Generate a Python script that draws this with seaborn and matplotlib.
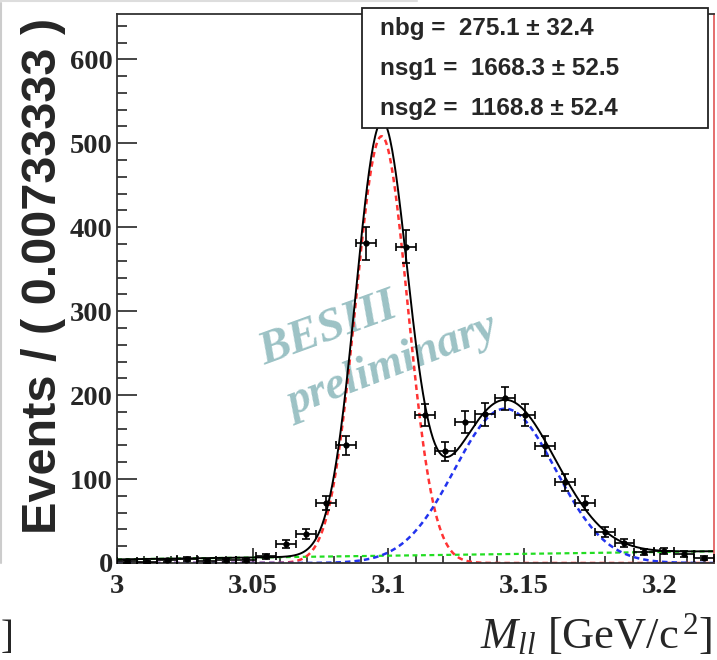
import numpy as np
import matplotlib
matplotlib.use("Agg")
import matplotlib.pyplot as plt
from matplotlib.patches import Rectangle
from matplotlib.lines import Line2D
from matplotlib.ticker import MultipleLocator
import seaborn as sns

# datos
x_min, x_max = 3.0, 3.22
n_bins = 30
counts = [2, 1, 3, 5, 2, 3, 3, 8, 23, 35, 71, 140, 381, 545, 377,
          176, 133, 168, 177, 196, 176, 139, 96, 71, 37, 24, 13, 14, 11, 6]

# resultados del ajuste (leyenda)
nbg, nbg_err = 275.1, 32.4
nsg1, nsg1_err = 1668.3, 52.5
nsg2, nsg2_err = 1168.8, 52.4

# forma de las componentes
mean1, sigma1 = 3.0975, 0.0096
mean2, sigma2 = 3.143, 0.0186
bkg_left, bkg_right = 4.3, 14.0

sns.set_style("ticks")
plt.rcParams["mathtext.fontset"] = "custom"
plt.rcParams["mathtext.rm"] = "Liberation Serif"
plt.rcParams["mathtext.it"] = "Liberation Serif:italic"

bin_w = (x_max - x_min) / n_bins
centers = x_min + bin_w * (np.arange(n_bins) + 0.5)
counts = np.array(counts)

xs = np.linspace(x_min, x_max, 600)
def gauss(x, n, m, s):
    return n * bin_w / (s * np.sqrt(2 * np.pi)) * np.exp(-0.5 * ((x - m) / s) ** 2)

sig1 = gauss(xs, nsg1, mean1, sigma1)
sig2 = gauss(xs, nsg2, mean2, sigma2)
bkg = bkg_left + (bkg_right - bkg_left) * (xs - x_min) / (x_max - x_min)
total = sig1 + sig2 + bkg

fig = plt.figure(figsize=(7.17, 6.6), dpi=100)
ax = fig.add_axes([117 / 717, 1 - 563 / 660, (714 - 117) / 717, (563 - 14) / 660])

dash = (0, (2.2, 1.6))
sns.lineplot(x=xs, y=bkg, ax=ax, color="#22dd22", lw=1.6, linestyle=dash)
sns.lineplot(x=xs, y=sig1, ax=ax, color="#ff3333", lw=1.8, linestyle=dash)
sns.lineplot(x=xs, y=sig2, ax=ax, color="#2233ee", lw=1.8, linestyle=dash)
sns.lineplot(x=xs, y=total, ax=ax, color="black", lw=1.4)

ax.errorbar(centers, counts, xerr=bin_w / 2, yerr=np.sqrt(counts), fmt="o",
            color="black", ms=3.5, elinewidth=1.2, capsize=3, capthick=1.2, zorder=5)

ax.set_xlim(x_min, x_max)
ax.set_ylim(0, 654)
ax.xaxis.set_major_locator(MultipleLocator(0.05))
ax.xaxis.set_minor_locator(MultipleLocator(0.01))
ax.yaxis.set_major_locator(MultipleLocator(100))
ax.yaxis.set_minor_locator(MultipleLocator(20))
ax.set_xticks([3.0, 3.05, 3.1, 3.15, 3.2])
ax.set_xticklabels(["3", "3.05", "3.1", "3.15", "3.2"])
ax.set_xlabel("")
ax.set_ylabel("")

ax.tick_params(axis="y", which="major", direction="in", length=14.5, width=1.2, pad=3)
ax.tick_params(axis="y", which="minor", direction="in", length=7, width=1.2)
ax.tick_params(axis="x", which="major", direction="in", length=11, width=1.2, pad=8)
ax.tick_params(axis="x", which="minor", direction="in", length=5, width=1.2)
for lab in ax.get_xticklabels() + ax.get_yticklabels():
    lab.set_family("Liberation Serif")
    lab.set_weight("bold")
    lab.set_fontsize(20.5)

for s in ["left", "top", "bottom"]:
    ax.spines[s].set_color("#333333")
    ax.spines[s].set_linewidth(1.3)
ax.spines["right"].set_color("#e05555")
ax.spines["right"].set_linewidth(1.2)

# marca de agua
ax.text(3.078, 278, "BESIII", fontsize=34, family="Liberation Serif", style="italic",
        weight="bold", color="#9cc2c5", rotation=20, ha="center", va="center", zorder=1)
ax.text(3.1015, 234, "preliminary", fontsize=33, family="Liberation Serif", style="italic",
        weight="bold", color="#9cc2c5", rotation=21, ha="center", va="center", zorder=1)

# caja de resultados
fig.add_artist(Rectangle((362 / 717, 1 - 128 / 660), (708 - 362) / 717, 120 / 660,
                         transform=fig.transFigure, facecolor="white",
                         edgecolor="#222222", lw=1.3, zorder=10))
lineas = [f"nbg =  {nbg} \u00b1 {nbg_err}",
          f"nsg1 =  {nsg1} \u00b1 {nsg1_err}",
          f"nsg2 =  {nsg2} \u00b1 {nsg2_err}"]
for i, t in enumerate(lineas):
    fig.text(380 / 717, 1 - (29 + 40 * i) / 660, t,
             fontsize=17.5, family="Liberation Sans", weight="bold",
             ha="left", va="center", zorder=11)

fig.text(44 / 717, 1 - 276 / 660, "Events / ( 0.00733333 )", rotation=90,
         fontsize=35, family="Liberation Sans", weight="bold", ha="center", va="center")
fig.text(712 / 717, 1 - 648 / 660, r"$M_{ll}$ [GeV/c$^{\,2}$]", fontsize=32,
         family="Liberation Serif", ha="right", va="baseline")
fig.text(1 / 717, 1 - 648 / 660, "]", fontsize=28, family="Liberation Serif",
         ha="left", va="baseline")

# restos del panel vecino
fig.add_artist(Line2D([1 / 717, 1 / 717], [1 - 563 / 660, 1 - 3 / 660],
                      transform=fig.transFigure, color="#cccccc", lw=1.5))
fig.add_artist(Line2D([0, 417 / 717], [1 - 1 / 660, 1 - 1 / 660],
                      transform=fig.transFigure, color="#dddddd", lw=1.5))

fig.savefig("out.png", dpi=100)
